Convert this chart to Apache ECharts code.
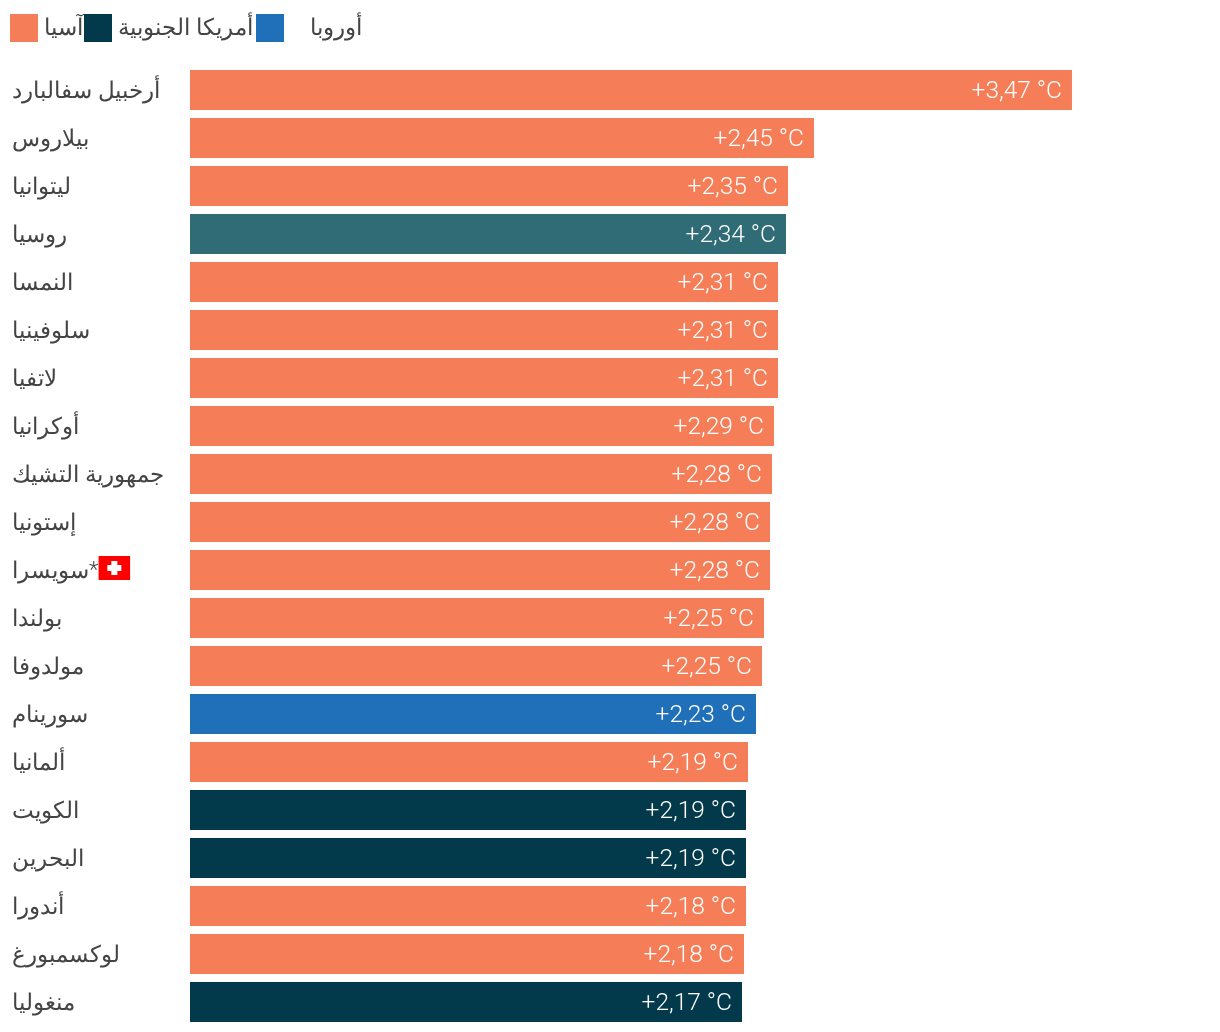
<!DOCTYPE html>
<html lang="ar">
<head>
<meta charset="utf-8">
<style>html,body{margin:0;padding:0;background:#fff}#c{width:1220px;height:1032px}</style>
<script src="https://cdn.jsdelivr.net/npm/echarts@6/dist/echarts.min.js"></script>
</head>
<body>
<div id="c"></div>
<script>
const categories = ['أرخبيل سفالبارد','بيلاروس','ليتوانيا','روسيا','النمسا','سلوفينيا','لاتفيا','أوكرانيا','جمهورية التشيك','إستونيا','سويسرا*','بولندا','مولدوفا','سورينام','ألمانيا','الكويت','البحرين','أندورا','لوكسمبورغ','منغوليا'];
const values = [3.47,2.455,2.3527,2.3448,2.3134,2.3134,2.3134,2.2976,2.2898,2.2819,2.2819,2.2583,2.2504,2.2268,2.1954,2.1875,2.1875,2.1875,2.1796,2.1717];
const valueLabels = ['+3,47 °C','+2,45 °C','+2,35 °C','+2,34 °C','+2,31 °C','+2,31 °C','+2,31 °C','+2,29 °C','+2,28 °C','+2,28 °C','+2,28 °C','+2,25 °C','+2,25 °C','+2,23 °C','+2,19 °C','+2,19 °C','+2,19 °C','+2,18 °C','+2,18 °C','+2,17 °C'];
const groups = [0,0,0,1,0,0,0,0,0,0,0,0,0,2,0,1,1,0,0,1];
const seriesNames = ['آسيا','أمريكا الجنوبية','أوروبا'];
const seriesColors = ['#F57E59','#023A4B','#1F6FB9'];
const russiaColor = '#306C75';
const flagSvg = '<svg xmlns="http://www.w3.org/2000/svg" width="32" height="31"><rect width="32" height="24" fill="#f00"/><rect x="13" y="5" width="6" height="14" fill="#fff"/><rect x="9" y="9" width="14" height="6" fill="#fff"/></svg>';
const flagUri = 'data:image/svg+xml;charset=utf-8,' + encodeURIComponent(flagSvg);
const FONT = 'Roboto, "Noto Sans", sans-serif';
const ARABIC = '"DejaVu Sans ExtraLight", "Noto Sans", sans-serif';

const chart = echarts.init(document.getElementById('c'));
const legendLefts = [10, 84, 256];
const legendPads = [[4,0,0,1],[4,0,0,1],[4,0,0,21]];
function seriesFor(g){
  return {
    name: seriesNames[g], type:'bar', stack:'all', barWidth:40, silent:true,
    itemStyle:{color:seriesColors[g]},
    label:{show:true, position:'insideRight', distance:10, offset:[0,2], color:'#fff', fontFamily:FONT, fontWeight:300, fontSize:24.5,
      formatter:p=>valueLabels[p.dataIndex]},
    data: values.map((v,i)=> groups[i]===g ? (categories[i]==='روسيا' ? {value:v,itemStyle:{color:russiaColor}} : v) : null)
  };
}
chart.setOption({
  animation:false,
  backgroundColor:'#fff',
  legend: seriesNames.map((n,g)=>({
    data:[n], left:legendLefts[g], top:14, orient:'horizontal', padding:0, itemWidth:28, itemHeight:28, itemGap:0, selectedMode:false,
    icon:'rect', textStyle:{color:'#444',fontFamily:ARABIC,fontWeight:300,fontSize:23.3,padding:legendPads[g]}
  })),
  grid:{left:190, top:66, width:1016.7, height:960, containLabel:false},
  xAxis:{type:'value', min:0, max:4, show:false},
  yAxis:{type:'category', inverse:true, data:categories,
    axisLine:{show:false}, axisTick:{show:false}, splitLine:{show:false},
    axisLabel:{align:'left', margin:178, color:'#444', fontFamily:ARABIC, fontWeight:300, fontSize:23, padding:[3,0,0,0],
      formatter:v=> v==='سويسرا*' ? v.replace('*','')+'{star|*}{flag|}' : v,
      rich:{
        star:{fontFamily:FONT,fontWeight:300,fontSize:22,color:'#444'},
        flag:{width:32,height:31,backgroundColor:{image:flagUri}}
      }
    }},
  series:[0,1,2].map(seriesFor)
});
</script>
</body>
</html>
